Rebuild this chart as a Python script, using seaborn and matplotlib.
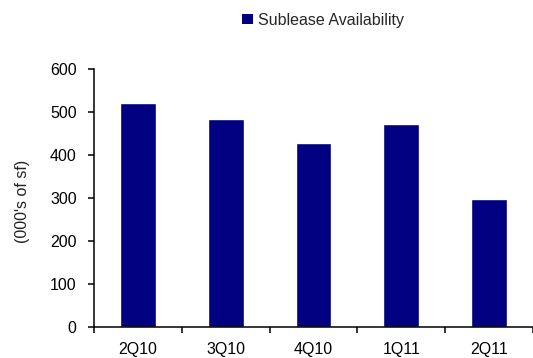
import matplotlib
matplotlib.use("Agg")
import matplotlib.pyplot as plt
from matplotlib.patches import Patch
import seaborn as sns
import pandas as pd

quarters = ["2Q10", "3Q10", "4Q10", "1Q11", "2Q11"]
sublease = [520, 483, 428, 472, 298]
series_name = "Sublease Availability"
y_ticks = [0, 100, 200, 300, 400, 500, 600]

sns.set_theme(style="white")
plt.rcParams["font.family"] = ["Liberation Sans", "DejaVu Sans"]

df = pd.DataFrame({"quarter": quarters, "value": sublease})

fig = plt.figure(figsize=(5.33, 3.58), dpi=100)
ax = fig.add_axes([94 / 533, 1 - 327 / 358, 439 / 533, (327 - 69) / 358])

sns.barplot(data=df, x="quarter", y="value", color="#000080", width=0.41,
            saturation=1, ax=ax)

ax.set_xlim(-0.5, len(quarters) - 0.5)
ax.set_ylim(0, 600)
ax.set_yticks(y_ticks)
ax.set_yticklabels([str(v) for v in y_ticks], fontsize=11.5)

# labels centred under bars, tick marks between categories
ax.set_xticks(range(len(quarters)))
ax.set_xticklabels(quarters, fontsize=11.5)
ax.tick_params(axis="x", which="major", length=0, pad=11)
ax.set_xticks([i - 0.5 for i in range(len(quarters) + 1)], minor=True)
ax.tick_params(axis="x", which="minor", length=4.5, width=1.1, color="black",
               direction="out", bottom=True)
ax.tick_params(axis="y", length=4.5, width=1.1, color="black", direction="out",
               left=True, pad=8, labelcolor="black")
ax.tick_params(axis="x", labelcolor="black")

for side in ["top", "right"]:
    ax.spines[side].set_visible(False)
for side in ["left", "bottom"]:
    ax.spines[side].set_color("black")
    ax.spines[side].set_linewidth(1.1)

ax.set_xlabel("")
ax.set_ylabel("(000's of sf)", fontsize=11.5, color="#222222")
ax.yaxis.set_label_coords(-0.146, 0.486)

handle = Patch(facecolor="#000080", edgecolor="none")
fig.legend([handle], [series_name], loc="center",
           bbox_to_anchor=(323 / 533, 1 - 20 / 358), frameon=False,
           fontsize=11.5, handlelength=0.65, handleheight=0.65,
           handletextpad=0.3, borderpad=0)

fig.savefig("out.png", dpi=100)
